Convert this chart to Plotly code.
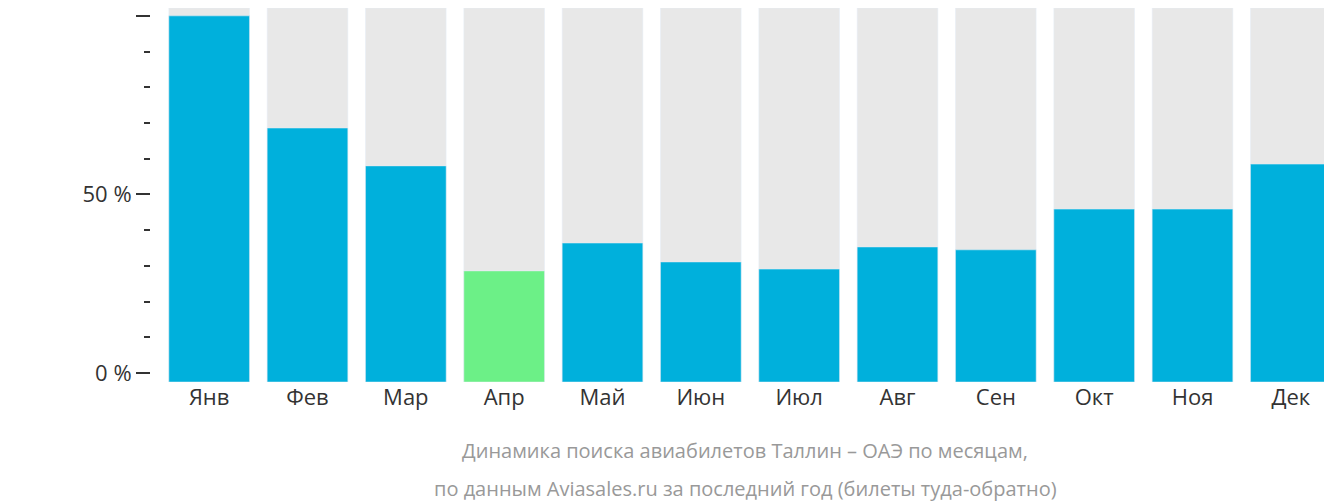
import plotly.graph_objects as go

months = ["Янв","Фев","Мар","Апр","Май","Июн","Июл","Авг","Сен","Окт","Ноя","Дек"]
values = [100, 68.6, 58, 28.6, 36.4, 31.1, 29.1, 35.3, 34.5, 45.9, 45.9, 58.5]
highlight = "Апр"
tick_vals = [0, 50, 100]
tick_text = ["0 %", "50 %", "100 %"]
caption = ["Динамика поиска авиабилетов Таллин – ОАЭ по месяцам,",
           "по данным Aviasales.ru за последний год (билеты туда-обратно)"]

base = -2.5
top = 102.2
colors = ["#6cf087" if m == highlight else "#00b0dc" for m in months]

fig = go.Figure()
fig.add_bar(x=months, y=[top - base] * len(months), base=base,
            marker_color="#e8e8e8", hoverinfo="skip")
fig.add_bar(x=months, y=[v - base for v in values], base=base,
            marker_color=colors)

fig.update_layout(
    width=1332, height=502, barmode="overlay", bargap=0.18, showlegend=False,
    plot_bgcolor="white", paper_bgcolor="white",
    margin=dict(l=142, r=0, t=0, b=128, autoexpand=False),
    font=dict(family="Open Sans", color="#333", size=22),
    xaxis=dict(domain=[0.0084, 1], showgrid=False, showline=False, automargin=False,
               ticks="", tickfont=dict(size=22, color="#333")),
    yaxis=dict(range=[base, top], anchor="free", position=0, showgrid=False, automargin=False,
               zeroline=False, showline=False, tickvals=tick_vals, ticktext=tick_text,
               ticks="outside", ticklen=14, tickcolor="#333", tickwidth=2,
               minor=dict(dtick=10, ticks="outside", ticklen=6, tickcolor="#333", tickwidth=2),
               tickfont=dict(size=22, color="#333")),
)
for i, line in enumerate(caption):
    fig.add_annotation(text=line, xref="paper", yref="paper", x=0.5, y=0,
                       yshift=-(442 - 374) - 38 * i, yanchor="middle", showarrow=False,
                       font=dict(size=20, color="#999"))
fig.write_html("out.html")
